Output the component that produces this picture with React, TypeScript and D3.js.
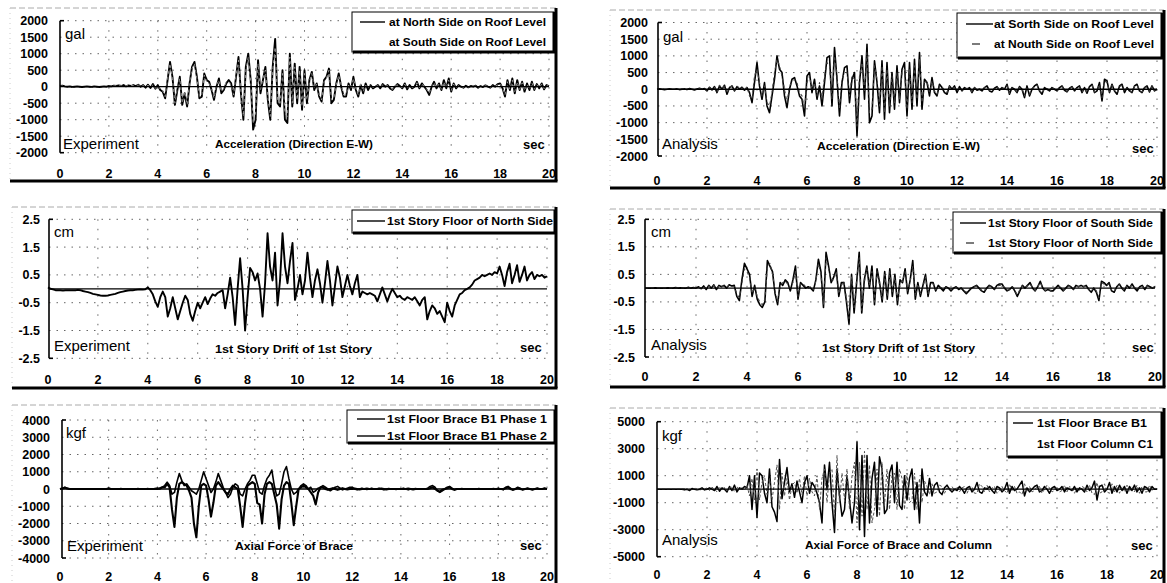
import React from 'react';
import * as d3 from 'd3';

// ---------- axis ticks ----------
const timeTicks = [0, 2, 4, 6, 8, 10, 12, 14, 16, 18, 20];
const accTicks = [2000, 1500, 1000, 500, 0, -500, -1000, -1500, -2000];
const driftTicks = [2.5, 1.5, 0.5, -0.5, -1.5, -2.5];
const forceExpTicks = [4000, 3000, 2000, 1000, 0, -1000, -2000, -3000, -4000];
const forceAnaTicks = [5000, 3000, 1000, -1000, -3000, -5000];

// ---------- data: one row per second, samples every 0.1 s ----------
const accExpNorth = [
  [20, 30, 10, 0, 10, -10, 0, 10, 0, -10],
  [0, 10, 0, -10, 10, 0, -10, 0, 10, 0],
  [20, 10, 30, 20, 40, 20, 50, 10, 40, 20],
  [50, 20, 60, 0, 50, -30, 60, -40, 80, -60],
  [50, -100, -150, -350, 200, 750, 300, -550, -100, 300],
  [-550, -200, -600, 100, 600, 750, 300, -350, -300, 400],
  [200, 150, -100, -400, 0, 250, -200, -100, 100, 200],
  [100, -300, 300, 900, -200, -1000, 600, 1000, 200, -1300],
  [-1000, 800, -200, 200, 600, -400, -1000, 600, 1450, -500],
  [-600, 500, -1000, -1100, 1000, -600, 700, -500, 600, -700],
  [500, -500, 200, 450, -100, 100, -300, -450, 200, 300],
  [550, -500, -400, 100, 400, 0, -300, -300, 100, -100],
  [300, -100, -300, 50, -200, 100, -100, 50, -50, 0],
  [50, -50, 80, 0, 50, -50, -100, 0, 80, 20],
  [-50, 100, -80, 50, -50, 0, 150, -50, 100, 0],
  [-100, -250, 0, 150, -50, 100, -100, 200, -50, 250],
  [-150, 100, -50, 50, 0, -30, 30, -20, 20, 0],
  [30, -30, 20, -10, 40, 0, -30, 50, 0, 80],
  [100, -50, -300, 200, -100, 250, -200, 200, -100, 150],
  [-150, 100, -100, 150, -100, 80, -50, 100, -80, 50],
  [20],
];
const accExpSouth = [
  [10, 20, 0, 10, 0, -10, 10, 0, 10, -10],
  [0, 0, 10, -10, 0, 10, -10, 10, 0, 10],
  [10, 20, 20, 30, 30, 20, 40, 20, 30, 30],
  [40, 30, 50, 10, 40, -20, 50, -30, 60, -50],
  [40, -80, -120, -300, 250, 700, 250, -500, -50, 250],
  [-500, -150, -550, 150, 550, 700, 250, -300, -250, 350],
  [150, 100, -50, -350, 50, 200, -150, -50, 150, 150],
  [50, -250, 350, 800, -150, -900, 500, 900, 150, -1100],
  [-800, 700, -100, 250, 500, -300, -900, 500, 1200, -400],
  [-500, 400, -800, -900, 900, -500, 600, -400, 500, -600],
  [400, -400, 150, 400, -50, 80, -250, -400, 150, 250],
  [500, -400, -350, 80, 350, 50, -250, -250, 50, -50],
  [250, -50, -250, 100, -150, 50, -50, 80, -30, 20],
  [30, -30, 60, 20, 30, -30, -80, 20, 60, 0],
  [-30, 80, -50, 30, -30, 20, 120, -30, 80, 20],
  [-80, -200, 20, 120, -30, 80, -80, 150, -30, 200],
  [-120, 80, -30, 30, 10, -20, 20, -10, 10, 10],
  [20, -20, 10, 0, 30, 10, -20, 40, 10, 60],
  [80, -30, -250, 150, -80, 200, -150, 150, -80, 120],
  [-120, 80, -80, 120, -80, 60, -30, 80, -60, 40],
  [10],
];
const accAnaSouth = [
  [0, 10, 0, -10, 0, 10, 0, 0, 10, -10],
  [0, 10, -10, 20, 0, -20, 10, 30, 0, 20],
  [-50, 60, -20, 80, -100, 100, 0, 120, -150, 50],
  [100, -50, 80, 0, 60, -30, 50, -100, -400, 200],
  [800, 100, -300, 200, -500, -700, -200, 300, 1000, 600],
  [500, -200, -550, 0, 300, 350, 100, -200, -300, -800],
  [400, 500, -100, 300, -300, 100, -500, 200, 950, 1000],
  [-500, 1250, 300, -800, 200, 650, 700, -400, 300, 500],
  [-1400, 200, 1000, -300, 1350, -1000, -800, 850, 200, -700],
  [850, -900, 800, -700, 500, -600, 700, -400, 600, 800],
  [-800, 800, -600, 900, -500, 1100, -600, 300, 200, -200],
  [350, -100, -200, 150, 50, -100, -150, 100, 0, 100],
  [-100, 80, -50, 50, 0, 50, -100, 50, -30, 0],
  [-50, 50, 100, -50, -80, 30, 80, -30, 50, 0],
  [150, -150, 50, 0, -100, 80, 0, -250, 100, -200],
  [0, 100, 150, -50, -150, 50, 0, -50, 50, 0],
  [-50, 50, 100, -30, -80, 30, 80, -50, 50, 100],
  [-100, 50, -120, 80, 150, -100, -50, 200, -350, 300],
  [250, -100, 150, -50, -150, 100, 150, -100, 50, -50],
  [-100, 100, 150, -50, -100, 50, 100, -80, 100, -50],
  [0],
];
const accAnaNorth = [
  [0, 0, 10, 0, -10, 0, 10, 0, 0, 0],
  [10, 0, -10, 10, 0, -10, 20, 20, 10, 10],
  [-30, 50, 0, 60, -80, 120, 20, 100, -120, 80],
  [80, -30, 100, 20, 50, -50, 80, -200, -300, 400],
  [600, 200, -200, 100, -400, -500, -100, 500, 900, 700],
  [400, 0, -400, 100, 200, 300, 200, -100, -200, -600],
  [200, 400, 0, 200, -200, 200, -300, 400, 800, 700],
  [-300, 1000, 400, -600, 300, 500, 500, -200, 400, 300],
  [-1100, 400, 800, -100, 1100, -700, -600, 700, 300, -500],
  [700, -700, 600, -500, 400, -400, 500, -300, 500, 600],
  [-600, 600, -400, 700, -300, 900, -400, 200, 250, -100],
  [250, -50, -150, 100, 80, -50, -100, 80, 30, 50],
  [-50, 60, -30, 30, 20, 30, -80, 40, -10, 10],
  [-30, 40, 80, -30, -60, 20, 60, -20, 40, 20],
  [100, -120, 30, 20, -80, 60, 20, -200, 80, -150],
  [20, 80, 120, -30, -120, 30, 20, -30, 30, 20],
  [-30, 40, 80, -20, -60, 20, 60, -30, 30, 80],
  [-80, 30, -100, 60, 120, -80, -30, 150, -250, 250],
  [200, -80, 120, -30, -120, 80, 120, -80, 30, -30],
  [-80, 80, 120, -30, -80, 30, 80, -60, 80, -30],
  [0],
];
const driftExpNorth = [
  [0.05, 0.0, -0.02, -0.05, -0.05, -0.05, -0.06, -0.05, -0.05, -0.05],
  [-0.05, -0.05, -0.04, -0.05, -0.08, -0.1, -0.12, -0.15, -0.18, -0.2],
  [-0.22, -0.24, -0.25, -0.25, -0.24, -0.22, -0.2, -0.18, -0.15, -0.12],
  [-0.1, -0.08, -0.06, -0.05, -0.05, -0.04, -0.03, -0.02, -0.03, -0.02],
  [0.05, -0.05, -0.2, -0.45, -0.65, -0.3, -0.1, -0.3, -1.0, -0.7],
  [-0.3, -0.7, -1.1, -0.8, -0.5, -0.25, -0.4, -0.9, -1.15, -0.8],
  [-0.5, -0.7, -0.5, -0.3, -0.55, -0.35, -0.2, -0.25, -0.15, -0.1],
  [-0.05, -0.7, -0.2, 0.4, -0.3, -1.3, 0.0, 1.1, 0.0, -1.5],
  [-0.3, 0.75, 0.6, 0.3, 0.55, 0.0, -1.0, 0.2, 2.0, 0.8],
  [0.3, 1.3, -0.6, 0.3, 2.0, 0.8, 0.2, 1.0, 1.65, -0.4],
  [0.0, 0.5, -0.2, 0.3, 1.3, 0.4, -0.3, 0.3, 0.7, 0.2],
  [-0.5, 0.2, 1.0, 0.3, -0.6, 0.1, 0.8, 0.4, -0.3, 0.1],
  [0.5, 0.1, -0.2, 0.2, 0.5, -0.3, -0.1, -0.15, -0.2, -0.15],
  [-0.2, -0.25, -0.45, -0.2, 0.05, -0.2, -0.45, -0.2, 0.0, -0.15],
  [-0.3, -0.25, -0.35, -0.4, -0.3, -0.35, -0.4, -0.3, -0.45, -0.6],
  [-0.4, -0.3, -1.1, -0.8, -0.6, -0.7, -0.9, -0.8, -1.0, -1.2],
  [-0.5, -0.8, -1.0, -0.6, -0.4, -0.2, -0.15, -0.05, 0.0, 0.05],
  [0.15, 0.3, 0.35, 0.4, 0.5, 0.45, 0.5, 0.55, 0.5, 0.6],
  [0.55, 0.8, 0.5, 0.1, 0.6, 0.9, 0.2, 0.5, 0.85, 0.25],
  [0.5, 0.8, 0.3, 0.5, 0.6, 0.35, 0.5, 0.45, 0.5, 0.4],
  [0.45],
];
const driftAnaSouth = [
  [0, 0, 0, 0, 0.01, 0, 0, 0, 0, 0.01],
  [0, 0, 0.02, 0, 0.01, 0, 0, 0.03, 0, 0.02],
  [0, 0.05, -0.02, 0.08, -0.05, 0.1, 0, 0.12, -0.05, 0.1],
  [0.05, 0.1, 0, 0.12, 0.08, 0.1, -0.3, -0.45, 0.3, 0.9],
  [0.7, 0.5, -0.3, 0.1, -0.4, -0.6, -0.7, -0.5, 1.0, 0.8],
  [0.6, -0.2, -0.6, 0.2, 0.1, 0.3, 0.2, -0.1, 0.3, 0.8],
  [-0.4, 0.2, 0.1, 0, 0.05, 0, -0.1, 0.3, 1.05, 0.6],
  [-0.7, 1.3, 0.8, 0.2, 0.4, 0.7, -0.3, 0.2, 0.2, -0.5],
  [-1.3, 0.5, -0.9, 0.2, 1.3, -0.9, 0.3, 0.8, 0, 0.8],
  [-0.6, 0.7, 0.2, -0.5, 0.6, -0.4, 0.7, -0.3, 0.5, -0.6],
  [0.3, 0.2, 0.7, -0.2, 0.3, 1.0, -0.4, 0.2, -0.3, 0.1],
  [0.5, -0.3, 0.2, 0.2, -0.1, 0.1, 0, -0.1, 0.05, 0],
  [-0.1, 0, 0.05, -0.05, 0, -0.1, -0.2, -0.1, 0, 0.05],
  [0.1, 0, -0.1, -0.15, 0, 0.1, 0.05, -0.05, 0.1, 0.15],
  [0.15, 0, -0.1, -0.05, 0.05, -0.1, -0.3, -0.1, 0.1, 0],
  [0.1, 0.2, 0, -0.1, 0.05, 0.25, 0, -0.1, -0.05, -0.1],
  [-0.1, 0, 0.1, 0, -0.1, 0, 0.1, 0.05, -0.05, 0.1],
  [0.05, 0.1, 0.05, 0.1, -0.05, -0.15, 0, -0.15, -0.45, 0.25],
  [0.2, 0.1, 0.2, -0.1, -0.15, 0.05, 0.15, 0, -0.1, 0.1],
  [0, 0.15, 0, -0.1, 0.05, 0.1, -0.05, 0.1, 0.05, 0],
  [0.05],
];
const driftAnaNorth = [
  [0, 0, 0, 0, 0, 0, 0, 0, 0, 0],
  [0, 0, 0, 0.01, 0, 0, 0.01, 0, 0.02, 0],
  [0.02, 0.03, 0, 0.06, -0.03, 0.08, 0.02, 0.1, -0.02, 0.08],
  [0.06, 0.08, 0.02, 0.1, 0.06, 0.05, -0.2, -0.35, 0.2, 0.7],
  [0.6, 0.4, -0.2, 0.05, -0.3, -0.5, -0.6, -0.4, 0.8, 0.9],
  [0.5, -0.1, -0.5, 0.1, 0.2, 0.25, 0.15, 0, 0.2, 0.6],
  [-0.3, 0.15, 0.15, 0.05, 0, 0.05, -0.05, 0.25, 0.9, 0.5],
  [-0.6, 1.1, 0.7, 0.3, 0.3, 0.6, -0.2, 0.1, 0.25, -0.4],
  [-1.1, 0.4, -0.7, 0.3, 1.1, -0.8, 0.2, 0.7, 0.1, 0.6],
  [-0.5, 0.6, 0.1, -0.4, 0.5, -0.3, 0.6, -0.2, 0.4, -0.5],
  [0.2, 0.25, 0.6, -0.1, 0.25, 0.8, -0.3, 0.15, -0.2, 0.05],
  [0.4, -0.2, 0.15, 0.15, -0.05, 0.05, 0.02, -0.05, 0.03, 0],
  [-0.05, 0.02, 0.03, -0.03, 0.02, -0.08, -0.15, -0.05, 0.02, 0.05],
  [0.08, 0.02, -0.08, -0.1, 0.02, 0.08, 0.05, -0.03, 0.08, 0.1],
  [0.12, 0.02, -0.08, -0.03, 0.05, -0.08, -0.25, -0.05, 0.08, 0.02],
  [0.08, 0.15, 0.02, -0.08, 0.05, 0.2, 0.02, -0.08, -0.03, -0.08],
  [-0.08, 0.02, 0.08, 0.02, -0.08, 0.02, 0.08, 0.05, -0.03, 0.08],
  [0.05, 0.08, 0.05, 0.08, -0.03, -0.1, 0.02, -0.1, -0.35, 0.2],
  [0.15, 0.1, 0.15, -0.08, -0.1, 0.05, 0.12, 0.02, -0.08, 0.08],
  [0.02, 0.12, 0.02, -0.08, 0.05, 0.08, -0.03, 0.08, 0.05, 0.02],
  [0.03],
];
const braceExpPhase1 = [
  [0, 50, 100, 50, 0, 0, 0, 0, 0, 0],
  [0, 0, 0, 0, 0, 0, 0, 0, 0, 0],
  [50, 0, 0, 0, 0, 20, 0, 0, 0, 0],
  [0, 0, 20, 0, 0, 0, 20, 0, 0, 30],
  [50, 0, 100, 200, 400, 200, -300, -200, 400, 900],
  [500, 200, 300, 100, -100, -200, -300, 0, 500, 1000],
  [600, 200, -200, 0, 400, 900, 500, 100, -200, -500],
  [-300, 100, 300, 200, -300, -400, 0, 300, 500, 800],
  [800, 300, -200, -300, 200, 600, 800, 1100, 200, -400],
  [-300, 300, 1000, 1300, 600, 0, -300, -200, 0, 200],
  [300, 200, 0, 100, -200, -100, 50, 100, 200, 100],
  [0, -100, 0, 100, 150, 50, -50, 0, 50, 100],
  [100, 0, -50, 0, 50, 0, -30, 0, 50, 0],
  [0, 50, 0, -50, 0, 30, 0, 0, -30, 0],
  [0, 50, 0, -50, 0, 0, 30, 0, 0, 0],
  [0, 50, 150, 200, 100, -100, -200, -100, 0, 100],
  [150, 50, -50, 0, 0, 30, 0, 0, 0, 0],
  [0, 0, 30, 0, 0, 0, 0, 0, 30, 0],
  [50, 0, -50, 100, 150, 50, -50, 0, 100, 50],
  [-50, 0, 50, 0, -50, 0, 50, 0, 0, 50],
  [0],
];
const braceExpPhase2 = [
  [0, 30, 80, 30, 0, 0, 0, 0, 0, 0],
  [0, 0, 0, 0, 0, 0, 0, 0, 0, 0],
  [30, 0, 0, 0, 0, 0, 0, 0, 0, 0],
  [0, 0, 0, 0, 0, 0, 0, 0, 0, 0],
  [0, 50, 100, 100, 300, 100, -1200, -2200, -500, 300],
  [400, 300, 200, -100, -500, -2000, -2800, -1000, 200, 300],
  [200, -600, -1600, -800, 200, 400, 200, 0, -200, -300],
  [0, 200, 100, 0, -1000, -2200, -800, 200, 300, 400],
  [300, -800, -900, -2000, -300, 300, 400, 300, -300, -900],
  [-2300, -600, 200, 400, 300, -800, -2100, -1000, 0, 100],
  [200, 100, 0, -200, -400, -900, -200, 100, 100, 0],
  [-50, 0, 50, 0, -50, 0, 50, 0, -30, 0],
  [0, 30, 0, -30, 0, 0, 30, 0, 0, 0],
  [0, 0, 30, 0, -30, 0, 0, 0, 0, 0],
  [0, 0, 0, 30, 0, -30, 0, 0, 0, 0],
  [0, 0, 50, 100, 0, -100, -150, -50, 0, 50],
  [100, 0, -50, 0, 0, 0, 0, 0, 0, 0],
  [0, 0, 0, 0, 0, 0, 0, 0, 0, 0],
  [0, 0, 0, 50, 100, 0, -50, 0, 50, 0],
  [-30, 0, 30, 0, -30, 0, 30, 0, 0, 30],
  [0],
];
const braceAnaB1 = [
  [0, 0, 0, 0, 0, 0, 0, 0, 0, 0],
  [0, -50, 0, -100, 50, 0, -50, 0, 100, -50],
  [0, 100, 0, -100, 200, -150, 100, 0, -200, 200],
  [-100, 300, -200, 100, 0, 200, 100, 1000, -1500, 1000],
  [-2100, 1200, 1000, -300, -1000, 1500, -1300, -1700, -2400, 2200],
  [-700, 500, 1600, -200, 400, -600, 600, -200, -1000, 500],
  [1000, -300, 500, 200, -300, -1000, -2500, 1800, 0, 2000],
  [-1000, -3200, 1500, -500, -2000, -1500, 1000, -800, -2500, -1000],
  [3500, -3000, 2500, -3500, 2500, -2500, 800, 2000, -2000, 2400],
  [1500, -1800, -1500, 1200, 1800, -1000, 2000, -1200, -1500, 1000],
  [-800, 800, 1500, -1500, 500, -2500, 1500, -200, -500, 800],
  [-500, 300, 500, -200, -400, 100, 300, 0, -200, 0],
  [-100, 200, 0, -300, 100, 200, -200, 0, 500, -200],
  [-300, 100, 0, 200, -100, -300, 200, 100, -200, 0],
  [500, -300, 200, -100, 0, 300, 600, -500, 100, -200],
  [0, 200, 300, -200, -100, 200, 0, -300, 100, 200],
  [-100, 0, 200, -200, 100, 0, -100, 200, -200, 100],
  [0, -200, 300, -100, 100, 600, -800, 200, 300, -200],
  [0, 500, -300, 200, -200, 300, -100, 200, -300, 200],
  [-100, 300, -200, 100, -300, 200, 100, -200, 200, 0],
  [0],
];
const columnAnaC1 = [
  [0, 0, 0, 0, 0, 0, 0, 0, 0, 0],
  [0, 50, -50, 0, -50, 100, 0, -100, 50, 0],
  [100, -100, 150, 0, -200, 200, -100, 150, -100, 100],
  [150, -200, 200, -100, 200, -100, 300, -500, 800, -800],
  [1500, -800, 500, 1000, -400, 800, -800, 500, 1800, -1500],
  [1200, -500, 800, -800, 300, 500, -300, 800, -400, 1000],
  [-500, 800, -200, -500, 1000, -1500, 800, 1500, -1000, 1200],
  [1500, -2000, 2500, -1000, 1200, -800, 1500, -1500, 1000, 2000],
  [-2500, 2000, -2000, 2800, -1500, 1800, -2500, -1500, 1500, -2000],
  [2000, -1200, 1500, -1500, 1000, 1200, -1500, 1500, 800, -1500],
  [1200, -1000, -800, 1200, -1500, 800, -1000, 600, 200, -400],
  [400, -300, -200, 300, 200, -300, 100, -100, 200, -100],
  [200, -200, 100, 200, -300, 100, 200, -300, -300, 400],
  [200, -200, 300, -200, 100, 200, -300, -100, 200, -100],
  [-300, 400, -100, 200, -300, -200, -400, 400, -200, 200],
  [-200, -100, 200, 200, -300, 0, 300, 100, -200, -100],
  [200, -200, -100, 300, -200, 200, 100, -300, 100, -100],
  [200, 100, -200, 300, -300, -400, 500, -300, -200, 400],
  [-200, -300, 400, -200, 300, -300, 200, -200, 300, -200],
  [200, -200, 300, -300, 200, -200, -200, 300, -100, 100],
  [0],
];

// ---------- helpers ----------
type Pt = [number, number];
const toPoints = (rows: number[][]): Pt[] =>
  rows.flatMap((row, s) => row.map((v, j) => [s + j / row.length, v] as Pt));

const FONT = "'Liberation Sans', Arial, sans-serif";

interface SeriesCfg { rows: number[][]; stroke: string; width: number; dash?: string; }
interface LegendEntry { label: string; sample: 'line' | 'dash' | 'none'; }
interface PanelCfg {
  frame: { l: number; t: number; r: number; b: number };
  x0: number; x1: number; yT: number; yB: number; axisX: number;
  ticks: number[]; labelRight: number; xLabelY: number;
  series: SeriesCfg[];
  unit: string; unitPos: [number, number];
  kind: string; kindPos: [number, number];
  title: string; titlePos: [number, number]; titleW: number;
  secPos: [number, number];
  legend: { l: number; t: number; r: number; b: number; ys: number[]; sx0: number; sx1: number; tx: number; tw: number[] };
  legendEntries: LegendEntry[];
}

function Panel({ c }: { c: PanelCfg }) {
  const x = d3.scaleLinear().domain([0, 20]).range([c.x0, c.x1]);
  const yMax = d3.max(c.ticks) as number;
  const y = d3.scaleLinear().domain([-yMax, yMax]).range([c.yB, c.yT]);
  const line = d3.line<Pt>().x((d) => x(d[0])).y((d) => y(d[1]));
  const f = c.frame;
  const L = c.legend;
  return (
    <g>
      {/* frame */}
      <line x1={f.l} y1={f.t} x2={f.r} y2={f.t} stroke="#aaa" strokeWidth={1} strokeDasharray="6,3" />
      <line x1={f.l} y1={f.t} x2={f.l} y2={f.b} stroke="#ccc" strokeWidth={1} strokeDasharray="1,4" />
      <line x1={f.l} y1={f.b} x2={f.r + 1.5} y2={f.b} stroke="#000" strokeWidth={3} />
      <line x1={f.r} y1={f.t} x2={f.r} y2={f.b} stroke="#000" strokeWidth={3} />
      {/* grid */}
      {c.ticks.filter((t) => t !== 0).map((t) => (
        <line key={'h' + t} x1={c.axisX} x2={c.x1} y1={y(t)} y2={y(t)} stroke="#666" strokeWidth={1} strokeDasharray="1.5,6" />
      ))}
      {timeTicks.slice(1).map((t) => (
        <line key={'v' + t} x1={x(t)} x2={x(t)} y1={c.yT} y2={c.yB} stroke="#666" strokeWidth={1} strokeDasharray="1.5,8" />
      ))}
      {/* series */}
      {c.series.map((s, i) => (
        <path key={i} d={line(toPoints(s.rows)) || ''} fill="none" stroke={s.stroke} strokeWidth={s.width}
          strokeDasharray={s.dash} strokeLinejoin="round" />
      ))}
      {/* zero line */}
      <line x1={c.axisX} x2={c.x1} y1={y(0)} y2={y(0)} stroke="#000" strokeWidth={1.3} />
      {/* y axis */}
      <line x1={c.axisX} x2={c.axisX} y1={c.yT} y2={c.yB} stroke="#000" strokeWidth={1.6} />
      <line x1={c.axisX} x2={c.axisX + 4} y1={c.yT} y2={c.yT} stroke="#000" strokeWidth={1.6} />
      <line x1={c.axisX} x2={c.axisX + 4} y1={c.yB} y2={c.yB} stroke="#000" strokeWidth={1.6} />
      {c.ticks.map((t) => (
        <text key={'yl' + t} x={c.labelRight} y={y(t) + 4.5} textAnchor="end" fontFamily={FONT} fontWeight="bold" fontSize={12.5}>
          {String(t)}
        </text>
      ))}
      {timeTicks.map((t) => (
        <text key={'xl' + t} x={x(t)} y={c.xLabelY} textAnchor="middle" fontFamily={FONT} fontWeight="bold" fontSize={12.5}>
          {String(t)}
        </text>
      ))}
      {/* labels */}
      <text x={c.unitPos[0]} y={c.unitPos[1]} fontFamily={FONT} fontSize={15}>{c.unit}</text>
      <text x={c.kindPos[0]} y={c.kindPos[1]} fontFamily={FONT} fontSize={15}>{c.kind}</text>
      <text x={c.titlePos[0]} y={c.titlePos[1]} fontFamily={FONT} fontWeight="bold" fontSize={10.5}
        textLength={c.titleW} lengthAdjust="spacingAndGlyphs">{c.title}</text>
      <text x={c.secPos[0]} y={c.secPos[1]} fontFamily={FONT} fontWeight="bold" fontSize={13}>sec</text>
      {/* legend */}
      <rect x={L.l} y={L.t} width={L.r - L.l} height={L.b - L.t} fill="#fff" stroke="#000" strokeWidth={1} />
      <line x1={L.l + 1} y1={L.b} x2={L.r + 1.5} y2={L.b} stroke="#000" strokeWidth={3} />
      <line x1={L.r} y1={L.t} x2={L.r} y2={L.b} stroke="#000" strokeWidth={3} />
      {c.legendEntries.map((e, i) => (
        <g key={'lg' + i}>
          {e.sample === 'line' && (
            <line x1={L.sx0} x2={L.sx1} y1={L.ys[i]} y2={L.ys[i]} stroke="#000" strokeWidth={1.4} />
          )}
          {e.sample === 'dash' && (
            <line x1={L.sx0 + 6} x2={L.sx0 + 14} y1={L.ys[i]} y2={L.ys[i]} stroke="#333" strokeWidth={1.3} />
          )}
          <text x={L.tx} y={L.ys[i] + 4} fontFamily={FONT} fontWeight="bold" fontSize={10.5}
            textLength={L.tw[i]} lengthAdjust="spacingAndGlyphs">{e.label}</text>
        </g>
      ))}
    </g>
  );
}

const panels: PanelCfg[] = [
  {
    frame: { l: 10, t: 8, r: 556, b: 181 },
    x0: 60, x1: 549, yT: 20.7, yB: 152.7, axisX: 60,
    ticks: accTicks, labelRight: 48, xLabelY: 177.5,
    series: [
      { rows: accExpNorth, stroke: '#000', width: 1.9 },
      { rows: accExpSouth, stroke: '#aaa', width: 0.8, dash: '3,3' },
    ],
    unit: 'gal', unitPos: [65, 39], kind: 'Experiment', kindPos: [63, 149],
    title: 'Acceleration (Direction E-W)', titlePos: [215, 148], titleW: 158,
    secPos: [523, 149],
    legend: { l: 352, t: 12, r: 554, b: 52, ys: [22, 42], sx0: 360, sx1: 385, tx: 389, tw: [157, 157] },
    legendEntries: [
      { label: 'at North Side on Roof Level', sample: 'line' },
      { label: 'at South Side on Roof Level', sample: 'none' },
    ],
  },
  {
    frame: { l: 610, t: 10, r: 1164, b: 188 },
    x0: 657, x1: 1157, yT: 22.5, yB: 156, axisX: 658,
    ticks: accTicks, labelRight: 648, xLabelY: 184.5,
    series: [
      { rows: accAnaSouth, stroke: '#000', width: 1.6 },
      { rows: accAnaNorth, stroke: '#444', width: 1.1, dash: '3,3' },
    ],
    unit: 'gal', unitPos: [663, 42], kind: 'Analysis', kindPos: [662, 149],
    title: 'Acceleration (Direction E-W)', titlePos: [817, 150], titleW: 163,
    secPos: [1132, 153],
    legend: { l: 957, t: 13, r: 1162, b: 58, ys: [24, 44], sx0: 966, sx1: 993, tx: 994, tw: [160, 160] },
    legendEntries: [
      { label: 'at Sorth Side on Roof Level', sample: 'line' },
      { label: 'at Nouth Side on Roof Level', sample: 'dash' },
    ],
  },
  {
    frame: { l: 12, t: 207, r: 556, b: 388 },
    x0: 48, x1: 547, yT: 219.3, yB: 358.3, axisX: 49,
    ticks: driftTicks, labelRight: 40, xLabelY: 384,
    series: [{ rows: driftExpNorth, stroke: '#000', width: 1.9 }],
    unit: 'cm', unitPos: [54, 237], kind: 'Experiment', kindPos: [54, 351],
    title: '1st Story Drift of 1st Story', titlePos: [215, 353], titleW: 157,
    secPos: [520, 352],
    legend: { l: 352, t: 210, r: 555, b: 233, ys: [221], sx0: 357, sx1: 385, tx: 387, tw: [166] },
    legendEntries: [{ label: '1st Story Floor of North Side', sample: 'line' }],
  },
  {
    frame: { l: 610, t: 209, r: 1164, b: 387 },
    x0: 645, x1: 1155, yT: 219.3, yB: 357, axisX: 645,
    ticks: driftTicks, labelRight: 635, xLabelY: 381,
    series: [
      { rows: driftAnaSouth, stroke: '#000', width: 1.6 },
      { rows: driftAnaNorth, stroke: '#444', width: 1.1, dash: '3,3' },
    ],
    unit: 'cm', unitPos: [651, 237], kind: 'Analysis', kindPos: [651, 350],
    title: '1st Story Drift of 1st Story', titlePos: [822, 352], titleW: 153,
    secPos: [1132, 352],
    legend: { l: 953, t: 212, r: 1162, b: 253, ys: [223, 243], sx0: 960, sx1: 986, tx: 988, tw: [165, 165] },
    legendEntries: [
      { label: '1st Story Floor of South Side', sample: 'line' },
      { label: '1st Story Floor of North Side', sample: 'dash' },
    ],
  },
  {
    frame: { l: 12, t: 405, r: 556, b: 600 },
    x0: 60, x1: 547, yT: 420, yB: 558, axisX: 62,
    ticks: forceExpTicks, labelRight: 50, xLabelY: 581,
    series: [
      { rows: braceExpPhase1, stroke: '#000', width: 1.6 },
      { rows: braceExpPhase2, stroke: '#000', width: 2.1 },
    ],
    unit: 'kgf', unitPos: [66, 438], kind: 'Experiment', kindPos: [67, 551],
    title: 'Axial Force of Brace', titlePos: [235, 550], titleW: 118,
    secPos: [520, 550],
    legend: { l: 347, t: 410, r: 555, b: 443, ys: [419, 436], sx0: 357, sx1: 385, tx: 387, tw: [160, 160] },
    legendEntries: [
      { label: '1st Floor Brace B1 Phase 1', sample: 'line' },
      { label: '1st Floor Brace B1 Phase 2', sample: 'line' },
    ],
  },
  {
    frame: { l: 610, t: 408, r: 1164, b: 600 },
    x0: 657, x1: 1157, yT: 421.7, yB: 556.7, axisX: 657,
    ticks: forceAnaTicks, labelRight: 645, xLabelY: 579,
    series: [
      { rows: braceAnaB1, stroke: '#000', width: 1.5 },
      { rows: columnAnaC1, stroke: '#555', width: 1, dash: '3,2' },
    ],
    unit: 'kgf', unitPos: [662, 441], kind: 'Analysis', kindPos: [662, 545],
    title: 'Axial Force of Brace and Column', titlePos: [805, 549], titleW: 187,
    secPos: [1131, 550],
    legend: { l: 1007, t: 412, r: 1162, b: 457, ys: [423, 444], sx0: 1013, sx1: 1033, tx: 1037, tw: [110, 116] },
    legendEntries: [
      { label: '1st Floor Brace B1', sample: 'line' },
      { label: '1st Floor Column C1', sample: 'none' },
    ],
  },
];

export default function App() {
  return (
    <svg width={1167} height={583} style={{ position: 'absolute', left: 0, top: 0, background: '#fff' }}>
      <rect x={0} y={0} width={1167} height={583} fill="#fff" />
      {panels.map((p, i) => (
        <Panel key={i} c={p} />
      ))}
    </svg>
  );
}
